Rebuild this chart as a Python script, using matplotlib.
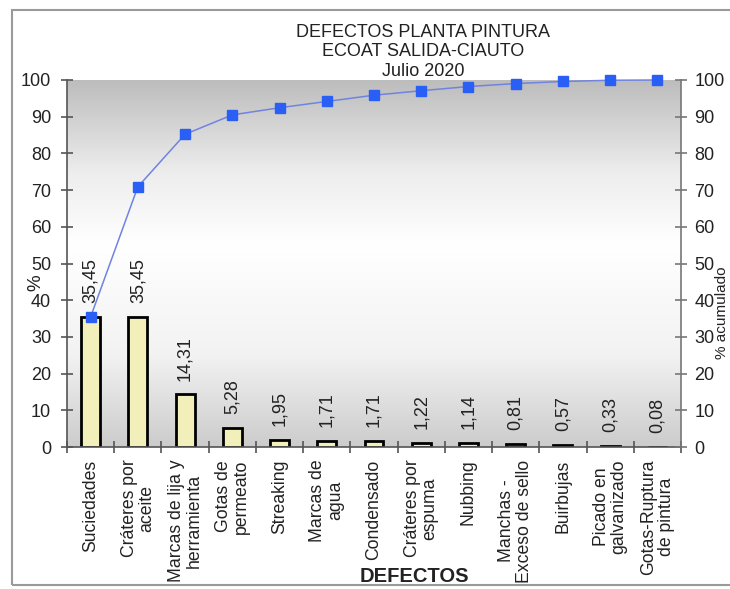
import matplotlib
matplotlib.use("Agg")
import matplotlib.pyplot as plt
import numpy as np
from matplotlib.patches import Rectangle

plt.rcParams['font.family'] = ['Liberation Sans', 'DejaVu Sans']

categories = ["Suciedades", "Cráteres por\naceite", "Marcas de lija y\nherramienta",
              "Gotas de\npermeato", "Streaking", "Marcas de\nagua", "Condensado",
              "Cráteres por\nespuma", "Nubbing", "Manchas -\nExceso de sello",
              "Buirbujas", "Picado en\ngalvanizado", "Gotas-Ruptura\nde pintura"]
percent = [35.45, 35.45, 14.31, 5.28, 1.95, 1.71, 1.71, 1.22, 1.14, 0.81, 0.57, 0.33, 0.08]
value_labels = ["35,45", "35,45", "14,31", "5,28", "1,95", "1,71", "1,71", "1,22",
                "1,14", "0,81", "0,57", "0,33", "0,08"]
cumulative = [35.45, 70.9, 85.21, 90.49, 92.44, 94.15, 95.86, 97.08, 98.22, 99.03, 99.6, 99.93, 100.0]
y_ticks = [0, 10, 20, 30, 40, 50, 60, 70, 80, 90, 100]

W, H = 730, 589
fig = plt.figure(figsize=(W / 100, H / 100), dpi=100)
fig.patch.set_facecolor('white')

# outer frame
fig.patches.append(Rectangle((12 / W, 1 - 585 / H), 1.0, (585 - 10) / H,
                             transform=fig.transFigure, fill=False,
                             edgecolor='#9a9a9a', linewidth=1.5))

left, right, top, bottom = 67, 681, 80, 447
ax = fig.add_axes([left / W, 1 - bottom / H, (right - left) / W, (bottom - top) / H])
n = len(categories)
x = np.arange(n)
ax.set_xlim(-0.5, n - 0.5)
ax.set_ylim(0, 100)

# gradient background
vals = np.linspace(0, 100, 200)
shade = np.interp(vals, [0, 25, 55, 75, 100], [0.80, 0.95, 1.0, 0.93, 0.74])
img = np.repeat(shade[:, None, None], 3, axis=2).repeat(2, axis=1)
ax.imshow(img, extent=(-0.5, n - 0.5, 0, 100), origin='lower', aspect='auto',
          zorder=0, interpolation='bilinear')

ax.bar(x, percent, width=0.4, color='#f3efbb', edgecolor='black', linewidth=2, zorder=2)
for xi, v, lab in zip(x, percent, value_labels):
    ax.annotate(lab, (xi, v), xytext=(0, 10), textcoords='offset points',
                rotation=90, ha='center', va='bottom', fontsize=13, color='#222222', zorder=5)

ax.spines['top'].set_visible(False)
for s in ['left', 'right', 'bottom']:
    ax.spines[s].set_color('#555555')
    ax.spines[s].set_linewidth(1.2)
ax.spines['right'].set_color('#777777')

ax.set_yticks(y_ticks)
ax.tick_params(axis='y', direction='inout', length=9, width=1.2, color='#555555',
               labelsize=13, pad=7, labelcolor='#222222')
ax.set_xticks(x)
ax.set_xticklabels(categories, rotation=90, fontsize=12.7, va='top', ha='center',
                   multialignment='center', color='#222222', linespacing=1.05)
ax.tick_params(axis='x', which='major', length=0, pad=9)
ax.set_xticks(np.arange(-0.5, n, 1.0), minor=True)
ax.tick_params(axis='x', which='minor', direction='inout', length=9, width=1.2, color='#555555')

ax2 = ax.twinx()
ax2.set_ylim(0, 100)
ax2.set_yticks(y_ticks)
ax2.tick_params(axis='y', direction='inout', length=9, width=1.2, color='#777777',
                labelsize=13, pad=5, labelcolor='#222222')
for s in ax2.spines.values():
    s.set_visible(False)
ax2.plot(x, cumulative, color='#7083e0', linewidth=1.1, marker='s', markersize=7,
         markerfacecolor='#2a5ff5', markeredgecolor='#2a5ff5', zorder=4, clip_on=False)

fig.text(423 / W, 1 - 24 / H, "DEFECTOS PLANTA PINTURA\nECOAT SALIDA-CIAUTO\nJulio 2020",
         ha='center', va='top', fontsize=13, linespacing=1.18, color='#222222')
fig.text(36 / W, 1 - 283 / H, "%", rotation=90, ha='center', va='center', fontsize=13.5,
         color='#222222')
fig.text(715 / W, 1 - 313 / H, "% acumulado", rotation=90, ha='left', va='center',
         fontsize=11, color='#222222')
fig.text(414 / W, 1 - 577 / H, "DEFECTOS", ha='center', va='center', fontsize=14.5,
         fontweight='bold', color='#222222')

fig.savefig("out.png", dpi=100)
